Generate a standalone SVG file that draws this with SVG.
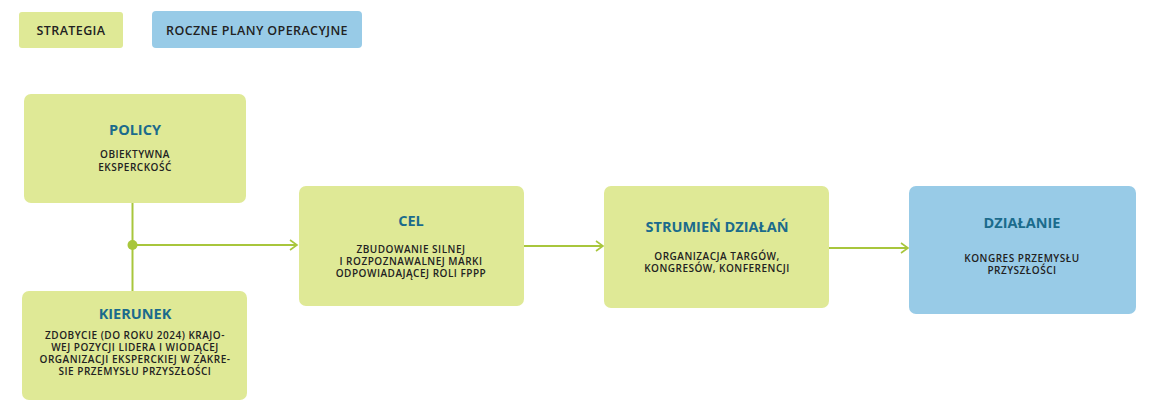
<svg xmlns="http://www.w3.org/2000/svg" width="1150" height="409" viewBox="0 0 1150 409">
<defs>
<style>
.g{fill:#dfe996}
.b{fill:#98cbe7}
.t{font-family:"Open Sans","Noto Sans",sans-serif;font-weight:700;font-size:14.5px;fill:#1b6b8c;text-anchor:middle}
.s{font-family:"Open Sans","Noto Sans",sans-serif;font-weight:600;font-size:10px;letter-spacing:0.5px;fill:#222;text-anchor:middle}
.l{font-family:"Open Sans","Noto Sans",sans-serif;font-weight:600;font-size:12.5px;letter-spacing:0.4px;fill:#222;text-anchor:middle}
.c{stroke:#a8c63c;stroke-width:2;fill:none}
</style>
<marker id="ah" markerWidth="10" markerHeight="12" refX="8" refY="6" orient="auto" markerUnits="userSpaceOnUse">
<path d="M1,1 L8,6 L1,11" fill="none" stroke="#a8c63c" stroke-width="1.6"/>
</marker>
</defs>
<rect width="1150" height="409" fill="#fff"/>
<g id="legend-strategia">
<rect class="g" x="19" y="12" width="104" height="36" rx="3"/>
<text class="l" x="71" y="34.5">STRATEGIA</text>
</g>
<g id="legend-roczne">
<rect class="b" x="152" y="11" width="210" height="37" rx="4"/>
<text class="l" x="257" y="34.5">ROCZNE PLANY OPERACYJNE</text>
</g>
<g id="connectors">
<line class="c" x1="132.5" y1="203" x2="132.5" y2="291"/>
<line class="c" x1="132.5" y1="245" x2="297" y2="245" marker-end="url(#ah)"/>
<circle cx="132.5" cy="245" r="5" fill="#a8c63c"/>
<line class="c" x1="524" y1="246" x2="603" y2="246" marker-end="url(#ah)"/>
<line class="c" x1="829" y1="248" x2="908" y2="248" marker-end="url(#ah)"/>
</g>
<g id="policy">
<rect class="g" x="24" y="94" width="222" height="109" rx="7"/>
<text class="t" x="135" y="135">POLICY</text>
<text class="s" x="135" y="158">OBIEKTYWNA</text>
<text class="s" x="135" y="171">EKSPERCKOŚĆ</text>
</g>
<g id="kierunek">
<rect class="g" x="22" y="291" width="225" height="109" rx="7"/>
<text class="t" x="135" y="319">KIERUNEK</text>
<text class="s" x="135" y="339">ZDOBYCIE (DO ROKU 2024) KRAJO-</text>
<text class="s" x="135" y="351">WEJ POZYCJI LIDERA I WIODĄCEJ</text>
<text class="s" x="135" y="363">ORGANIZACJI EKSPERCKIEJ W ZAKRE-</text>
<text class="s" x="135" y="375">SIE PRZEMYSŁU PRZYSZŁOŚCI</text>
</g>
<g id="cel">
<rect class="g" x="299" y="186" width="225" height="120" rx="7"/>
<text class="t" x="411" y="226">CEL</text>
<text class="s" x="411" y="253">ZBUDOWANIE SILNEJ</text>
<text class="s" x="411" y="265">I ROZPOZNAWALNEJ MARKI</text>
<text class="s" x="411" y="277">ODPOWIADAJĄCEJ ROLI FPPP</text>
</g>
<g id="strumien">
<rect class="g" x="604" y="186" width="225" height="122" rx="7"/>
<text class="t" x="717" y="232">STRUMIEŃ DZIAŁAŃ</text>
<text class="s" x="717" y="260">ORGANIZACJA TARGÓW,</text>
<text class="s" x="717" y="272">KONGRESÓW, KONFERENCJI</text>
</g>
<g id="dzialanie">
<rect class="b" x="909" y="186" width="227" height="128" rx="7"/>
<text class="t" x="1022" y="228">DZIAŁANIE</text>
<text class="s" x="1022" y="262">KONGRES PRZEMYSŁU</text>
<text class="s" x="1022" y="274">PRZYSZŁOŚCI</text>
</g>
</svg>
